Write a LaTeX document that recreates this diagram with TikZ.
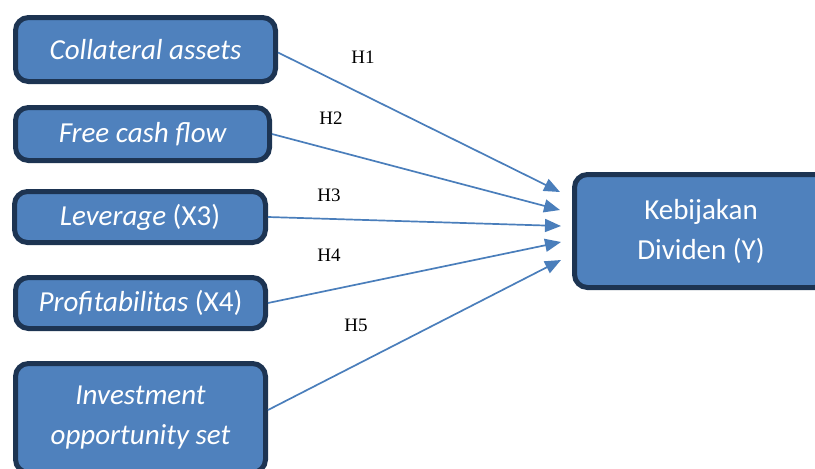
\documentclass[tikz,border=0pt]{standalone}
\usepackage{fontspec}
\setmainfont{Liberation Serif}
\newfontfamily\boxfont{Carlito}
\usepackage{tikz}
\usetikzlibrary{positioning,shapes,arrows.meta,calc}
\definecolor{boxblue}{HTML}{4F81BD}
\definecolor{boxnavy}{HTML}{1D3452}
\definecolor{arrowblue}{HTML}{4A7EBB}
\tikzstyle{var}=[%
      rectangle, rounded corners=13pt, draw=boxnavy, line width=5pt, fill=boxblue,
      text=white, font=\boxfont\fontsize{29}{40}\selectfont, align=center, inner sep=0pt
]
\tikzstyle{low}=[%
      text height=17pt, text depth=0pt
]
\tikzstyle{hyp}=[%
      font=\fontsize{19}{22}\selectfont, inner sep=0pt
]
\tikzstyle{link}=[%
      draw=arrowblue, line width=1.7pt, -{Triangle[length=16pt,width=13pt]}
]

\begin{document}
\begin{tikzpicture}[x=1pt,y=-1pt]
    \useasboundingbox (0,0) rectangle (815,469);

    \node[var, minimum width=260pt, minimum height=64pt] (c1) at (145.5,49.5) {\itshape Collateral assets};
    \node[var, low, minimum width=254pt, minimum height=53pt] (c2) at (142.5,134) {\itshape Free cash flow};
    \node[var, low, minimum width=251pt, minimum height=51pt] (c3) at (140,217) {{\itshape Leverage} (X3)};
    \node[var, low, minimum width=250pt, minimum height=51pt] (c4) at (140.5,303) {{\itshape Profitabilitas} (X4)};
    \node[var, minimum width=250pt, minimum height=109pt] (c5) at (140.5,418) {\itshape Investment\\\itshape opportunity set};
    \node[var, minimum width=253pt, minimum height=113pt] (dv) at (701,231) {Kebijakan\\Dividen (Y)};

    % arrow tips stop short of the dependent box
    \coordinate (t1) at (560,192);
    \coordinate (t2) at (560,210);
    \coordinate (t3) at (561,226);
    \coordinate (t4) at (561,242);
    \coordinate (t5) at (561,260);

    \draw[link] ($(c1.east)+(0,3)$) -- (t1);
    \draw[link] (c2.east) -- (t2);
    \draw[link] (c3.east) -- (t3);
    \draw[link] (c4.east) -- (t4);
    \draw[link] ($(c5.east)+(0,-8)$) -- (t5);

    \node[hyp] (h1) at (363,57) {H1};
    \node[hyp] (h2) at (331,118) {H2};
    \node[hyp] (h3) at (329,195) {H3};
    \node[hyp] (h4) at (329,255) {H4};
    \node[hyp] (h5) at (356,325) {H5};
\end{tikzpicture}
\end{document}
